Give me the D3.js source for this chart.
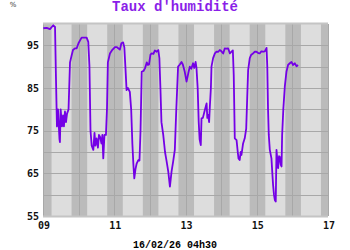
<!DOCTYPE html>
<html>
<head>
<meta charset="utf-8">
<script src="https://d3js.org/d3.v7.min.js"></script>
<style>
  body { margin: 0; background: #ffffff; }
</style>
</head>
<body>
<script>
// heures depuis le 09/02 00h00
var heures = [0.2, 2.5, 4.7, 6.9, 8.1, 8.7, 9.4, 10.1, 11.1, 11.4, 11.9, 12.8, 13.5, 14.1, 14.8, 15.5, 16.2, 17.2,
  18.2, 19.2, 20.2, 21.5, 22.7, 23.9, 26.0, 29.4, 30.5, 31.3, 32.0, 32.8, 33.9, 34.7, 35.3, 36.1, 37.0, 37.7, 38.4,
  39.4, 40.0, 40.6, 41.4, 42.4, 43.1, 43.7, 45.1, 46.4, 48.5, 49.8, 50.7, 51.8, 52.8, 54.0, 54.8, 55.5, 56.3, 57.2,
  58.5, 59.4, 60.2, 60.9, 61.5, 62.3, 63.1, 64.2, 65.0, 65.7, 66.5, 67.7, 68.7, 69.9, 70.7, 71.4, 72.4, 73.2, 74.4,
  75.4, 76.6, 77.7, 78.4, 79.1, 79.8, 81.0, 82.2, 83.2, 84.4, 85.5, 86.6, 87.7, 88.8, 89.8, 91.0, 92.2, 93.3, 94.2,
  95.5, 96.7, 97.9, 98.9, 99.9, 101.1, 101.9, 102.8, 103.4, 104.2, 104.9, 105.5, 106.3, 106.8, 107.7, 109.0, 110.2,
  110.7, 111.3, 111.9, 112.4, 113.1, 113.5, 114.6, 115.8, 116.9, 118.1, 119.1, 120.2, 121.4, 122.5, 123.5, 124.7,
  125.9, 127.0, 127.9, 128.5, 129.2, 130.4, 131.2, 131.7, 132.5, 133.2, 133.7, 134.8, 135.9, 136.9, 137.6, 138.2,
  139.3, 140.3, 141.5, 142.7, 143.8, 145.0, 146.0, 147.1, 148.3, 149.4, 150.6, 151.1, 151.6, 152.1, 152.8, 153.9,
  154.5, 155.0, 155.6, 156.2, 156.8, 157.3, 157.9, 158.4, 159.0, 159.5, 160.2, 160.7, 161.1, 161.9, 162.9, 164.0,
  165.1, 166.3, 167.4, 168.5, 169.6, 170.8, 171.8];

var humidite = [99.0, 99.1, 98.8, 99.7, 99.3, 88, 76, 80, 73, 72.3, 80, 76, 78.6, 76, 79.5, 77, 79, 80,
  91, 92.5, 93.9, 94.3, 94.3, 95.5, 96.8, 96.8, 95.8, 90, 75, 71.5, 70.5, 74.5, 71.5, 73.2, 71, 74, 73.6,
  72, 74, 68.5, 74, 74, 80, 91, 93.1, 93.8, 94.6, 94.6, 94.3, 94, 95.5, 95.7, 94.5, 90, 84.5, 85,
  84.1, 80, 72, 67, 63.8, 66, 67.3, 68.1, 68, 75, 88.8, 89, 89.6, 91, 90.4, 90.5, 92.8, 93.1, 93,
  93.8, 93.5, 93.9, 92, 85, 77, 74, 70, 68, 65.4, 61.9, 65.4, 67.8, 70.5, 80, 90, 90.5, 91.1, 90.5,
  88.8, 86.5, 88.5, 90, 89.5, 90.8, 89.7, 91.1, 89.7, 85, 77, 73, 71.6, 77.9, 78, 79.8, 81.4,
  78, 78.7, 77, 80.6, 85, 90, 92, 93.1, 93.5, 93.5, 93.9, 93.6, 93.1, 94.3, 94.2, 94.3,
  93.1, 93.5, 93.8, 88, 73.2, 72.8, 70, 68.5, 68.1, 70, 69.3, 72, 73.2, 75.5, 83, 89.2,
  92, 92.8, 93.1, 93.5, 93.5, 93.2, 93.1, 93.6, 93.5, 93.6, 94.4, 90, 80, 74, 70.5, 68.5,
  65, 62.3, 60, 58.7, 58.4, 70.5, 68, 66.2, 69, 68.9, 67, 66.6, 74, 80, 85.3, 88.8,
  90.4, 90.8, 91.1, 90.4, 90.8, 90.1, 90.4];

var jours = ["09", "10", "11", "12", "13", "14", "15", "16", "17"];
var joursLabels = ["09", "11", "13", "15", "17"];
var yTicks = [55, 65, 75, 85, 95];
var yGrid = [60, 65, 70, 75, 80, 85, 90, 95];
var nuitDebut = 19.25, nuitFin = 5.75;

var width = 350, height = 250;
var margin = {left: 43, right: 22, top: 24, bottom: 34};

var svg = d3.select("body")
    .append("svg")
    .attr("width", width)
    .attr("height", height);

var x = d3.scaleLinear().domain([0, 192]).range([margin.left, width - margin.right]);
var y = d3.scaleLinear().domain([55, 100]).range([height - margin.bottom, margin.top]);

//fond
svg.append("rect")
    .attr("x", x(0))
    .attr("y", y(100))
    .attr("width", x(192) - x(0))
    .attr("height", y(55) - y(100))
    .attr("fill", "#dddddd");

//bandes de nuit
var nuits = [];
jours.forEach(function (j, i) {
    var debut = Math.max(0, i * 24 - 24 + nuitDebut);
    var fin = Math.min(192, i * 24 + nuitFin);
    nuits.push([debut, fin]);
});

svg.selectAll(".nuit")
    .data(nuits)
    .enter()
    .append("rect")
    .attr("class", "nuit")
    .attr("x", (d) => x(d[0]))
    .attr("y", y(100))
    .attr("width", (d) => x(d[1]) - x(d[0]))
    .attr("height", y(55) - y(100))
    .attr("fill", "#bbbbbb");

//grille
svg.selectAll(".hgrid")
    .data(yGrid)
    .enter()
    .append("line")
    .attr("x1", x(0))
    .attr("x2", x(192))
    .attr("y1", (d) => Math.round(y(d)) + 0.5)
    .attr("y2", (d) => Math.round(y(d)) + 0.5)
    .attr("stroke", "#a8a8a8")
    .attr("stroke-width", 1);

svg.selectAll(".vgrid")
    .data(jours)
    .enter()
    .append("line")
    .attr("x1", (d, i) => Math.round(x(i * 24)) + 0.5)
    .attr("x2", (d, i) => Math.round(x(i * 24)) + 0.5)
    .attr("y1", y(100))
    .attr("y2", y(55))
    .attr("stroke", "#a8a8a8")
    .attr("stroke-width", 1);

//cadre haut et bas
svg.append("line")
    .attr("x1", x(0)).attr("x2", x(192))
    .attr("y1", y(100) - 0.5).attr("y2", y(100) - 0.5)
    .attr("stroke", "#c4c4c4").attr("stroke-width", 2);
svg.append("line")
    .attr("x1", x(0)).attr("x2", x(192))
    .attr("y1", y(55) + 0.5).attr("y2", y(55) + 0.5)
    .attr("stroke", "#c4c4c4").attr("stroke-width", 2);

//courbe
var ligne = d3.line()
    .x((d, i) => x(heures[i]))
    .y((d) => y(d));

svg.append("path")
    .datum(humidite)
    .attr("d", ligne)
    .attr("fill", "none")
    .attr("stroke", "#7400e6")
    .attr("stroke-width", 1.8)
    .attr("stroke-linejoin", "round");

//axes
svg.selectAll(".ylab")
    .data(yTicks)
    .enter()
    .append("text")
    .attr("x", 39)
    .attr("y", (d) => y(d) + 3.5)
    .attr("text-anchor", "end")
    .style("font-family", "'DejaVu Sans Mono', monospace")
    .style("font-weight", "bold")
    .style("font-size", "10px")
    .attr("fill", "#111")
    .text((d) => d);

svg.selectAll(".xlab")
    .data(joursLabels)
    .enter()
    .append("text")
    .attr("x", (d, i) => x(i * 48) + 1)
    .attr("y", 228.5)
    .attr("text-anchor", "middle")
    .style("font-family", "'DejaVu Sans Mono', monospace")
    .style("font-weight", "bold")
    .style("font-size", "10px")
    .attr("fill", "#111")
    .text((d) => d);

svg.append("text")
    .attr("x", 13)
    .attr("y", 7)
    .attr("text-anchor", "middle")
    .style("font-family", "'DejaVu Sans', sans-serif")
    .style("font-size", "7px")
    .attr("fill", "#333")
    .text("%");

svg.append("text")
    .attr("x", 175)
    .attr("y", 11)
    .attr("text-anchor", "middle")
    .style("font-family", "'Liberation Mono', 'Courier New', monospace")
    .style("font-weight", "bold")
    .style("font-size", "14px")
    .attr("fill", "#8a1ee8")
    .text("Taux d'humidité");

svg.append("text")
    .attr("x", 175)
    .attr("y", 247.5)
    .attr("text-anchor", "middle")
    .style("font-family", "'Liberation Mono', 'Courier New', monospace")
    .style("font-weight", "bold")
    .style("font-size", "10px")
    .attr("fill", "#000")
    .text("16/02/26 04h30");
</script>
</body>
</html>
